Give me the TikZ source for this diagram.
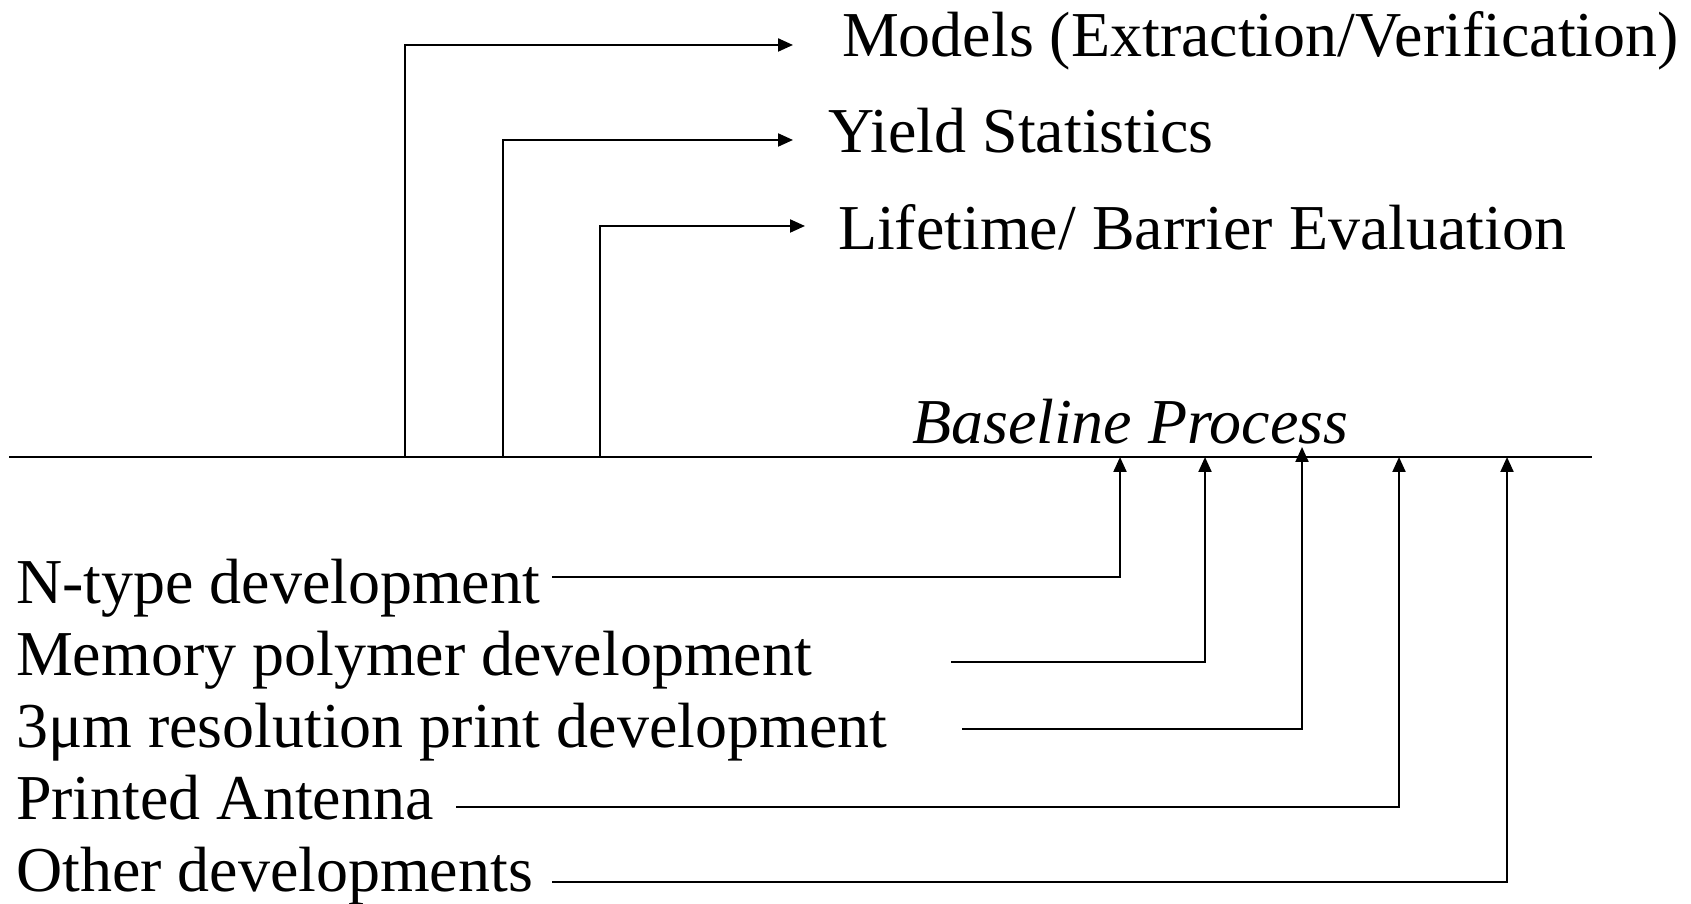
\documentclass[tikz,border=0pt]{standalone}
\usepackage{fontspec}
\setmainfont{Liberation Serif}
\usetikzlibrary{arrows.meta,positioning}
\tikzset{
    lbl/.style={inner sep=0pt, anchor=base west, font=\fontsize{18.2}{22}\selectfont},
    arr/.style={-{Triangle[length=1.5mm,width=1.3mm]}}
}
\begin{document}
\begin{tikzpicture}[x=0.1mm, y=-0.1mm, line width=0.6pt]
    \useasboundingbox (0,0) rectangle (1691,904);
    \coordinate (l) at (9,457);
    \coordinate (r) at (1592,457);
    \draw (l) -- (r);
    \node [lbl, font=\fontsize{18.2}{22}\selectfont\itshape] (base) at (911,444) {Baseline Process};

    \node [lbl] (models) at (841,57) {Models (Extraction/Verification)};
    \node [lbl] (yield) at (827,153) {Yield Statistics};
    \node [lbl] (life) at (837,250) {Lifetime/ Barrier Evaluation};
    \coordinate (t1) at (405,457);
    \coordinate (t2) at (503,457);
    \coordinate (t3) at (600,457);
    \coordinate (m1) at (793,45);
    \coordinate (m2) at (793,140);
    \coordinate (m3) at (805,226);
    \draw [arr] (t1) |- (m1);
    \draw [arr] (t2) |- (m2);
    \draw [arr] (t3) |- (m3);

    \node [lbl] (ntype) at (15,604) {N-type development};
    \node [lbl] (memory) at (15,676) {Memory polymer development};
    \node [lbl] (print) at (15,748) {3μm resolution print development};
    \node [lbl] (antenna) at (15,820) {Printed Antenna};
    \node [lbl] (other) at (15,892) {Other developments};
    \coordinate (n1) at (552,577);
    \coordinate (n2) at (951,662);
    \coordinate (n3) at (962,729);
    \coordinate (n4) at (456,807);
    \coordinate (n5) at (552,882);
    \coordinate (b1) at (1120,457);
    \coordinate (b2) at (1205,457);
    \coordinate (b3) at (1302,447);
    \coordinate (b4) at (1399,457);
    \coordinate (b5) at (1507,457);
    \draw [arr] (n1) -| (b1);
    \draw [arr] (n2) -| (b2);
    \draw [arr] (n3) -| (b3);
    \draw [arr] (n4) -| (b4);
    \draw [arr] (n5) -| (b5);
\end{tikzpicture}
\end{document}
